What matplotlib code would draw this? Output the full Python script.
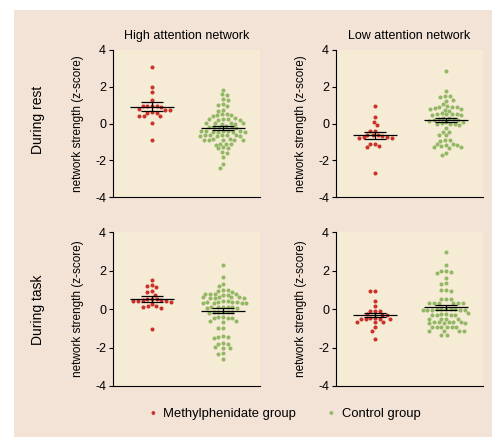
import numpy as np
import matplotlib
matplotlib.use("Agg")
import matplotlib.pyplot as plt
from matplotlib.patches import Rectangle

plt.rcParams['font.family'] = ['Liberation Sans', 'DejaVu Sans']

# ---------------- data ----------------
col_titles = ["High attention network", "Low attention network"]
row_titles = ["During rest", "During task"]
group_names = ["Methylphenidate group", "Control group"]
ylabel = "network strength (z-score)"
yticks = [-4, -2, 0, 2, 4]

hi_rest_mph = [3.1, 2.0, 1.7, 1.3, 0.95, 0.95, 0.95, 0.95, 0.9, 0.8, 0.75, 0.75,
               0.6, 0.55, 0.55, 0.4, 0.4, 0.4, 0.05, -0.9]
hi_rest_ctl = [1.85, 1.6, 1.55, 1.35, 1.3, 1.05, 1.0, 0.95, 0.75, 0.7, 0.5, 0.45,
               0.45, 0.4, 0.5, 0.25, 0.25, 0.3, 0.2, 0.25, 0.2, 0.05, 0.05, 0.0,
               0.05, 0.0, 0.05, -0.2, -0.2, -0.15, -0.2, -0.2, -0.25, -0.4, -0.45,
               -0.4, -0.45, -0.4, -0.45, -0.4, -0.45, -0.4, -0.65, -0.65, -0.7,
               -0.65, -0.65, -0.7, -0.65, -0.7, -0.9, -0.9, -0.85, -0.9, -0.9,
               -0.85, -0.9, -1.1, -1.1, -1.15, -1.1, -1.35, -1.3, -1.35, -1.6,
               -1.55, -1.85, -2.2, -2.4]
lo_rest_mph = [0.95, 0.35, 0.1, -0.1, -0.4, -0.4, -0.6, -0.6, -0.65, -0.7, -0.75,
               -0.75, -0.8, -0.8, -1.1, -1.1, -1.2, -1.3, -2.7]
lo_rest_ctl = [2.85, 1.75, 1.5, 1.45, 1.5, 1.3, 1.25, 1.05, 0.95, 0.9, 0.85, 0.9,
               0.8, 0.8, 0.9, 0.75, 0.7, 0.55, 0.5, 0.5, 0.5, 0.45, 0.5, 0.45,
               0.3, 0.3, 0.25, 0.25, 0.2, 0.2, 0.15, 0.1, 0.1, 0.05, -0.05, -0.05,
               -0.05, -0.1, -0.25, -0.45, -0.45, -0.6, -0.65, -0.9, -0.95, -0.9,
               -1.1, -1.15, -1.15, -1.1, -1.2, -1.3, -1.35, -1.3, -1.6, -1.7]
hi_task_mph = [1.5, 1.25, 1.15, 1.2, 0.95, 0.9, 0.75, 0.5, 0.45, 0.5, 0.45, 0.5,
               0.4, 0.4, 0.35, 0.4, 0.15, 0.1, 0.15, 0.05, 0.25, -1.05]
hi_task_ctl = [2.3, 1.65, 1.3, 1.2, 1.0, 0.95, 1.0, 0.9, 0.8, 0.8, 0.75, 0.75, 0.8,
               0.8, 0.6, 0.6, 0.55, 0.55, 0.6, 0.6, 0.55, 0.4, 0.35, 0.35, 0.3,
               0.3, 0.35, 0.3, 0.35, 0.3, 0.4, 0.1, 0.1, 0.1, 0.05, 0.05, 0.1, 0.1,
               -0.15, -0.15, -0.15, -0.15, -0.15, -0.2, -0.4, -0.45, -0.4, -0.45,
               -0.45, -0.6, -0.65, -0.6, -1.0, -1.0, -1.45, -1.5, -1.45, -1.4,
               -1.8, -1.8, -1.75, -2.0, -2.0, -1.95, -2.35, -2.3, -2.6]
lo_task_mph = [0.95, 0.95, 0.4, 0.15, -0.1, -0.1, -0.1, -0.3, -0.3, -0.25, -0.5,
               -0.5, -0.45, -0.5, -0.45, -0.5, -0.65, -0.7, -0.65, -0.95, -1.15,
               -1.55]
lo_task_ctl = [2.95, 2.3, 1.95, 1.85, 1.9, 1.95, 1.6, 1.3, 1.35, 1.0, 1.0, 0.95,
               0.5, 0.5, 0.5, 0.3, 0.3, 0.3, 0.3, 0.3, 0.3, 0.0, -0.05, -0.05, 0.0,
               -0.05, 0.0, -0.05, 0.0, -0.05, 0.0, -0.3, -0.25, -0.3, -0.3, -0.3,
               -0.25, -0.2, -0.5, -0.5, -0.5, -0.5, -0.7, -0.7, -0.7, -0.75, -0.75,
               -0.75, -0.7, -0.7, -0.95, -0.95, -0.95, -0.95, -0.95, -0.95, -1.15,
               -1.15, -1.15, -1.15, -1.35, -1.35]

# group means and SEM
hi_rest_mean = [0.92, -0.25]; hi_rest_sem = [0.23, 0.12]
lo_rest_mean = [-0.65, 0.20]; lo_rest_sem = [0.18, 0.12]
hi_task_mean = [0.52, -0.09]; hi_task_sem = [0.14, 0.12]
lo_task_mean = [-0.33, 0.09]; lo_task_sem = [0.11, 0.13]

panels = [
    [(hi_rest_mph, hi_rest_ctl, hi_rest_mean, hi_rest_sem),
     (lo_rest_mph, lo_rest_ctl, lo_rest_mean, lo_rest_sem)],
    [(hi_task_mph, hi_task_ctl, hi_task_mean, hi_task_sem),
     (lo_task_mph, lo_task_ctl, lo_task_mean, lo_task_sem)],
]

# ---------------- style ----------------
RED = '#c9312a'
GREEN = '#93b865'
PAGE = '#f3e2d6'
PLOT_BG = '#f6ecd6'
DPI = 100
W, H = 492, 437


def beeswarm(vals, ppu_y, d):
    """Return x offsets in pixels for a beeswarm of vals (y in data units)."""
    ys = np.asarray(vals, float) * ppu_y
    order = np.argsort(-ys)
    placed = []
    xs = np.zeros(len(ys))
    for i in order:
        y = ys[i]
        cands = [0.0]
        for (px, py) in placed:
            dy = abs(py - y)
            if dy < d:
                dx = np.sqrt(d * d - dy * dy)
                cands += [px + dx, px - dx]
        cands = sorted(cands, key=lambda c: (abs(c), c))
        for c in cands:
            ok = all((c - px) ** 2 + (y - py) ** 2 >= d * d - 1e-6 for px, py in placed)
            if ok:
                xs[i] = c
                placed.append((c, y))
                break
    return xs


fig = plt.figure(figsize=(W / DPI, H / DPI), dpi=DPI, facecolor='white')
fig.patches.append(Rectangle((14 / W, 0), 1, 1 - 10 / H, transform=fig.transFigure,
                             facecolor=PAGE, edgecolor='none', zorder=-10))

lefts = [113 / W, 336 / W]
bottoms = [1 - 197 / H, 1 - 386 / H]
aw = 147 / W
ahs = [147 / H, 154 / H]

XLIM = (0.45, 2.52)
for r in range(2):
    for c in range(2):
        ax = fig.add_axes([lefts[c], bottoms[r], aw, ahs[r]])
        ax.set_facecolor(PLOT_BG)
        mph, ctl, means, sems = panels[r][c]
        ax.set_xlim(*XLIM)
        ax.set_ylim(-4, 4)
        ax_w_px = aw * W
        ax_h_px = ahs[r] * H
        ppu_y = ax_h_px / 8.0
        ppu_x = ax_w_px / (XLIM[1] - XLIM[0])
        for k, (vals, col) in enumerate([(mph, RED), (ctl, GREEN)]):
            xpos = k + 1
            offs = beeswarm(vals, ppu_y, 4.7) / ppu_x
            ax.scatter(xpos + offs, vals, s=8.5, color=col, linewidths=0, zorder=2)
            m, s = means[k], sems[k]
            ax.hlines(m, xpos - 0.31, xpos + 0.31, color='black', lw=0.9, zorder=3)
            ax.hlines([m - s, m + s], xpos - 0.15, xpos + 0.15, color='black', lw=0.9, zorder=3)
            ax.vlines(xpos, m - s, m + s, color='black', lw=0.9, zorder=3)
        ax.spines['top'].set_visible(False)
        ax.spines['right'].set_visible(False)
        ax.spines['left'].set_linewidth(0.8)
        ax.spines['bottom'].set_linewidth(0.8)
        ax.set_xticks([])
        ax.set_yticks(yticks)
        ax.set_yticklabels([str(t) for t in yticks])
        ax.tick_params(axis='y', length=3, width=0.8, labelsize=9, pad=2)
        ax.set_ylabel(ylabel, fontsize=8.5, labelpad=8)
        if r == 0:
            ax.set_title(col_titles[c], fontsize=9, pad=8)

fig.text(38 / W, 1 - 120 / H, row_titles[0], rotation=90, ha='center', va='center', fontsize=10)
fig.text(38 / W, 1 - 310 / H, row_titles[1], rotation=90, ha='center', va='center', fontsize=10)

# legend
fig.text(153 / W, 1 - 414 / H, '\u2022', color=RED, ha='center', va='center', fontsize=10)
fig.text(163 / W, 1 - 414 / H, group_names[0], ha='left', va='center', fontsize=9.4)
fig.text(331 / W, 1 - 414 / H, '\u2022', color=GREEN, ha='center', va='center', fontsize=10)
fig.text(342 / W, 1 - 414 / H, group_names[1], ha='left', va='center', fontsize=9.4)

fig.savefig('out.png', dpi=DPI, facecolor=fig.get_facecolor())
